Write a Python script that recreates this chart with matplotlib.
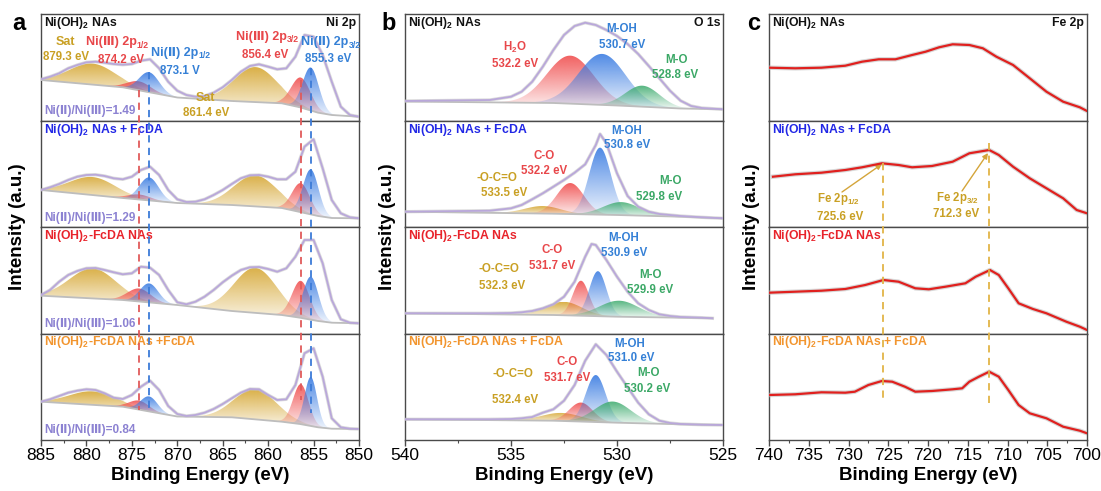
import numpy as np
import matplotlib
matplotlib.use('Agg')
import matplotlib.pyplot as plt
from matplotlib.lines import Line2D
from matplotlib.colors import to_rgb
from matplotlib.ticker import MultipleLocator
import matplotlib.transforms as mtrans

plt.rcParams['font.family'] = ['Liberation Sans', 'DejaVu Sans']
plt.rcParams['mathtext.fontset'] = 'custom'
plt.rcParams['mathtext.rm'] = 'Liberation Sans:bold'
plt.rcParams['mathtext.bf'] = 'Liberation Sans:bold'
plt.rcParams['mathtext.it'] = 'Liberation Sans:bold'
plt.rcParams['mathtext.default'] = 'rm'

# ---------------- data ----------------
row_titles = ["Ni(OH)$_2$ NAs", "Ni(OH)$_2$ NAs + FcDA", "Ni(OH)$_2$-FcDA NAs", "Ni(OH)$_2$-FcDA NAs +FcDA"]
row_titles_bc = ["Ni(OH)$_2$ NAs", "Ni(OH)$_2$ NAs + FcDA", "Ni(OH)$_2$-FcDA NAs", "Ni(OH)$_2$-FcDA NAs + FcDA"]
row_colors = ['#111111', '#2228E6', '#E8232B', '#F2952E']

# Panel a : Ni 2p
a_env_eV = list(range(885, 849, -1))
a_env = [
    [41.2, 43.8, 47.2, 52.2, 55.5, 58.2, 58.8, 57.8, 56.5, 55.8, 56.5, 59.8, 61.2, 52.2, 38.8, 29.8, 25.5, 23.8,
     24.5, 27.8, 33.2, 40.5, 48.8, 54.5, 56.2, 53.8, 51.2, 52.2, 63.8, 85.5, 83.8, 65.5, 38.8, 13.8, 5.5, 3.8],
    [37, 39.7, 43, 47, 50.3, 52, 52.3, 51, 48.7, 47.7, 50.3, 57, 60.3, 52, 37, 27.7, 25, 25.3,
     27.7, 32, 37, 43, 48.7, 51.7, 52, 50.3, 47.7, 47.7, 55.3, 80.3, 87.7, 58.7, 27, 13.7, 9.7, 8.7],
    [38.5, 43.5, 51.8, 58.5, 62.5, 65.2, 65.5, 63.5, 61.2, 59.2, 60.2, 66.8, 65.8, 58.5, 43.5, 31.2, 29.2, 31.8,
     36.8, 43.5, 51.2, 57.8, 63.5, 66.2, 66.5, 64.5, 61.8, 65.2, 76.8, 93.5, 93.5, 70.2, 33.5, 14.2, 10.8, 10.2],
    [38.3, 40.7, 44, 47.3, 49.3, 50.7, 50, 46.7, 42.3, 41, 45, 53.3, 59.3, 50, 34, 26, 24, 25,
     27.3, 31, 36, 41.7, 47.3, 51, 50.7, 45, 40, 40.7, 55, 86.7, 91.7, 63.3, 21.7, 12.7, 11.3, 11],
]
a_base_eV = [885, 876, 870, 864, 858.5, 856.5, 854.5, 853, 850]
a_base = [
    [40.5, 33.2, 23.0, 19.5, 17.2, 13.2, 7.8, 5.5, 3.8],
    [37, 29, 24.0, 22, 19, 15, 11, 9, 8.7],
    [37.8, 33.5, 28.5, 22.5, 18.5, 15.8, 12.5, 10.8, 10.2],
    [38.3, 33.3, 23.5, 22.7, 18.3, 16, 12.7, 11.3, 11],
]
a_centers = [879.3, 874.2, 873.1, 861.4, 856.4, 855.3]
a_kinds = ['gold', 'red', 'blue', 'gold', 'red', 'blue']
a_height = [
    [21, 9, 20, 35, 30, 43],
    [18, 5, 23, 31, 29, 45],
    [30, 13, 19, 45, 37, 43],
    [13.5, 9, 15, 30, 40, 49],
]
a_fwhm = [
    [6.0, 3.0, 2.6, 5.6, 2.5, 2.1],
    [6.0, 3.0, 2.5, 5.6, 2.3, 2.0],
    [6.0, 3.0, 2.4, 5.6, 2.3, 2.0],
    [6.0, 2.6, 2.2, 5.5, 2.0, 1.6],
]
a_ratios = ["1.49", "1.29", "1.06", "0.84"]

# Panel b : O 1s
b_env_eV = [
    [540, 536, 535, 534.5, 534, 533.5, 533, 532.5, 532, 531.5, 531, 530.5, 530, 529.5, 529, 528.5, 528, 527.5, 527, 526.5, 526, 525],
    [540, 536, 535, 534.5, 534, 533.5, 533, 532.5, 532, 531.5, 531, 530.8, 530.5, 530, 529.5, 529, 528.5, 528, 527, 526, 525],
    [540, 536, 535, 534.5, 534, 533.5, 533, 532.5, 532, 531.5, 531.2, 531, 530.5, 530, 529.5, 529, 528.5, 528, 527.5, 527, 526, 525.5],
    [540, 536, 535, 534.5, 534, 533.5, 533, 532.5, 532, 531.5, 531, 530.5, 530, 529.5, 529, 528.5, 528, 527.5, 527, 526, 525],
]
b_env = [
    [19.5, 20.5, 23.8, 28.8, 38.8, 53.8, 70.5, 85.5, 94.5, 97.8, 95.5, 90.5, 84.5, 76.5, 66.5, 54.5, 42.2, 29.8, 19.8, 14.5, 12.5, 11.2],
    [15.3, 16.3, 18.7, 22, 27.7, 33.7, 40.3, 47, 54.3, 62.7, 82, 93, 83.7, 53.7, 31, 20.3, 15.3, 13, 11, 9.7, 8.7],
    [20.2, 20.2, 20.5, 21.2, 22.5, 25.2, 29.2, 36.8, 51.8, 76.8, 89.5, 88.5, 73.5, 56.8, 41.8, 30.2, 23.5, 19.2, 17.5, 16.5, 15.8, 15.2],
    [20.7, 20.7, 21, 21.7, 23, 27.3, 30.7, 39.3, 55, 79.3, 95.7, 85, 68.3, 52.7, 37.3, 25.7, 19.3, 17, 16, 15.3, 15],
]
b_base_eV = [540, 533, 530, 527, 525]
b_base = [
    [19, 17.5, 15, 12, 11.2],
    [15.3, 13.3, 12, 10.3, 8.7],
    [20.2, 18.5, 16.8, 15.8, 15.2],
    [20.7, 19.3, 17.3, 15.7, 15],
]
b_centers = [[532.2, 530.7, 528.8], [533.5, 532.2, 530.8, 529.8], [532.5, 531.7, 530.9, 529.9], [532.6, 531.7, 531.0, 530.2]]
b_kinds = [['red', 'blue', 'green'], ['gold', 'red', 'blue', 'green'], ['gold', 'red', 'blue', 'green'], ['gold', 'red', 'blue', 'green']]
b_height = [[48, 51, 21], [7.5, 31, 67, 13], [13.5, 35, 45, 16], [8, 19, 47, 21]]
b_fwhm = [[2.6, 2.6, 1.9], [2.0, 1.5, 1.2, 2.0], [2.0, 0.9, 0.95, 2.2], [2.2, 1.3, 1.1, 2.0]]

# Panel c : Fe 2p
c_eV = [
    [740, 736.7, 733.4, 730.4, 728.3, 726.2, 724.1, 722.0, 720.3, 718.6, 716.9, 714.8, 713.1, 711.4, 709.3, 707.2, 705.1, 703.0, 700.9, 700.0],
    [739.5, 736.7, 733.4, 730.4, 728.3, 725.8, 723.7, 722.0, 719.5, 716.9, 714.8, 712.3, 711.1, 709.3, 707.2, 705.1, 703.0, 701.3, 700.0],
    [740, 736.7, 733.4, 730.4, 727.9, 725.6, 723.7, 721.6, 719.9, 717.8, 715.3, 714.0, 712.2, 711.1, 709.9, 708.6, 706.8, 705.1, 702.6, 700.9, 700.0],
    [740, 736.7, 733.4, 730.4, 729.2, 727.5, 725.8, 724.5, 722.9, 721.6, 719.5, 716.9, 715.7, 714.8, 713.6, 712.3, 711.1, 709.9, 708.6, 707.2, 705.1, 703.0, 700.9, 700.0],
]
c_int = [
    [52.8, 52.2, 52.8, 54.8, 58.8, 61.2, 61.2, 65.5, 68.8, 73.2, 76.2, 75.5, 72.2, 63.8, 55.5, 42.2, 28.8, 18.8, 13.2, 9.5],
    [50.3, 52.7, 54.3, 57, 59.7, 63.7, 62, 59.7, 61, 65.3, 73.7, 77, 72, 60.3, 48.7, 38.7, 28.7, 17, 13.7],
    [40.8, 41.8, 42.8, 44.5, 48.5, 53.5, 51.8, 45.2, 44.2, 46.8, 50.2, 56.8, 63.5, 58.5, 45.2, 30.2, 24.5, 20.2, 11.8, 6.8, 3.5],
    [45, 45.7, 47.7, 47.3, 48.3, 55, 59, 58.3, 53.3, 48.3, 49, 50.7, 51.7, 58.3, 63.3, 68.3, 63.3, 50, 35, 26.7, 21.7, 13.3, 9.3, 6.7],
]
fe_peaks = [725.6, 712.3]

fill_cols = {'gold': '#D6A733', 'red': '#F04E4E', 'blue': '#3A7CE2', 'green': '#40AC70'}
txt_gold, txt_red, txt_blue, txt_green = '#C9A024', '#E8474A', '#3580D6', '#3BA866'
lav = '#8C82D2'

# ---------------- figure ----------------
W, H = 1101, 491
fig = plt.figure(figsize=(W / 100, H / 100), dpi=100)
row_px = [14, 120.5, 227, 333.5, 440]
RH = 106.5
panel_left = [41, 405, 769]
PW = 318
xlims = [(885, 850), (540, 525), (740, 700)]


def make_axes(p):
    axs = []
    for r in range(4):
        rect = [panel_left[p] / W, 1 - row_px[r + 1] / H, PW / W, RH / H]
        ax = fig.add_axes(rect)
        ax.set_xlim(*xlims[p])
        ax.set_ylim(0, RH)
        ax.set_yticks([])
        for s in ax.spines.values():
            s.set_color('#4a4a4a')
            s.set_linewidth(1.0)
        if r < 3:
            ax.set_xticks([])
        else:
            ax.xaxis.set_major_locator(MultipleLocator(5))
            ax.xaxis.set_minor_locator(MultipleLocator(2.5))
            ax.tick_params(axis='x', which='major', direction='out', length=4, width=1,
                           labelsize=12.5, pad=2, color='#4a4a4a')
            ax.tick_params(axis='x', which='minor', direction='out', length=2.5, width=0.8, color='#4a4a4a')
        axs.append(ax)
    return axs


def grad_fill(ax, x, ybot, ytop, color, amax=0.9, amin=0.08, z=2):
    poly = ax.fill_between(x, ybot, ytop, facecolor='none', edgecolor='none')
    path = poly.get_paths()[0]
    rgb = to_rgb(color)
    n = 200
    img = np.zeros((n, 1, 4))
    img[:, 0, :3] = rgb
    img[:, 0, 3] = np.linspace(amax, amin, n)
    im = ax.imshow(img, aspect='auto', origin='upper', zorder=z, interpolation='bilinear',
                   extent=[x.min(), x.max(), ybot.min(), ytop.max()])
    im.set_clip_path(path, transform=ax.transData)


def draw_components(ax, centers, kinds, heights, fwhms, base_eV, base_vals, xr):
    bx = np.array(base_eV[::-1], float)
    by = np.array(base_vals[::-1], float)
    for c, k, h, w in zip(centers, kinds, heights, fwhms):
        lo = max(min(xr), c - 2.6 * w)
        hi = min(max(xr), c + 2.6 * w)
        x = np.linspace(lo, hi, 300)
        b = np.interp(x, bx, by)
        y = b + h * np.exp(-4 * np.log(2) * ((x - c) / w) ** 2)
        grad_fill(ax, x, b, y, fill_cols[k])


def ftxt(x, y, s, color, size=8.3, ha='center', **kw):
    return fig.text(x / W, 1 - y / H, s, color=color, fontsize=size, fontweight='bold', ha=ha, va='center', **kw)


renderer = fig.canvas.get_renderer()


def sub_label(cx, cy, main, sub, color, size=9, subsize=6.3):
    t1 = fig.text(0, 0, main, fontsize=size, fontweight='bold', color=color, ha='left', va='center')
    t2 = fig.text(0, 0, sub, fontsize=subsize, fontweight='bold', color=color, ha='left', va='center')
    w1 = t1.get_window_extent(renderer).width
    w2 = t2.get_window_extent(renderer).width
    x0 = cx - (w1 + w2) / 2
    t1.set_position((x0 / W, 1 - cy / H))
    t2.set_position(((x0 + w1) / W, 1 - (cy + 3) / H))


ax_a = make_axes(0)
ax_b = make_axes(1)
ax_c = make_axes(2)

# panel a
for r, ax in enumerate(ax_a):
    draw_components(ax, a_centers, a_kinds, a_height[r], a_fwhm[r], a_base_eV, a_base[r], xlims[0])
    ax.plot(a_base_eV, a_base[r], color='#BDBDBD', lw=1.3, zorder=3)
    ax.plot(a_env_eV, a_env[r], color='#C4C4C4', lw=2.4, alpha=0.6, zorder=4)
    ax.plot(a_env_eV, a_env[r], color='#B9A7DA', lw=1.3, zorder=5)
    ax.set_xlim(*xlims[0]); ax.set_ylim(0, RH)

# panel b
for r, ax in enumerate(ax_b):
    draw_components(ax, b_centers[r], b_kinds[r], b_height[r], b_fwhm[r], b_base_eV, b_base[r], xlims[1])
    xe = b_env_eV[r]
    bb = np.interp(np.array(xe[::-1], float), np.array(b_base_eV[::-1], float), np.array(b_base[r][::-1], float))[::-1]
    ax.plot(xe, bb, color='#BDBDBD', lw=1.3, zorder=3)
    ax.plot(xe, b_env[r], color='#C4C4C4', lw=2.4, alpha=0.6, zorder=4)
    ax.plot(xe, b_env[r], color='#B9A7DA', lw=1.3, zorder=5)
    ax.set_xlim(*xlims[1]); ax.set_ylim(0, RH)

# panel c
for r, ax in enumerate(ax_c):
    ax.plot(c_eV[r], c_int[r], color='#BDBDBD', lw=3.2, alpha=0.6, zorder=3)
    ax.plot(c_eV[r], c_int[r], color='#E0201E', lw=1.6, zorder=4)
    ax.set_xlim(*xlims[2]); ax.set_ylim(0, RH)


# dashed reference lines spanning rows
def vline_fig(ax, x, y0, y1, color):
    tr = mtrans.blended_transform_factory(ax.transData, fig.transFigure)
    ln = Line2D([x, x], [1 - y0 / H, 1 - y1 / H], transform=tr, color=color, lw=1.3,
                linestyle=(0, (4, 3)), zorder=10)
    fig.add_artist(ln)


vline_fig(ax_a[0], a_centers[1], 90, 410, '#E05A5A')
vline_fig(ax_a[0], a_centers[2], 72, 413, '#3C7BD8')
vline_fig(ax_a[0], a_centers[4], 80, 400, '#E05A5A')
vline_fig(ax_a[0], a_centers[5], 68, 413, '#3C7BD8')
vline_fig(ax_c[0], fe_peaks[0], 163, 398, '#E2B446')
vline_fig(ax_c[0], fe_peaks[1], 143, 408, '#E2B446')

# row titles
for p in range(3):
    for r in range(4):
        t = row_titles[r] if p == 0 else row_titles_bc[r]
        ftxt(panel_left[p] + 3, row_px[r] + 9, t, row_colors[r], size=8.8, ha='left')
ftxt(panel_left[0] + PW - 3, 23, "Ni 2p", '#111111', size=8.8, ha='right')
ftxt(panel_left[1] + PW - 3, 23, "O 1s", '#111111', size=8.8, ha='right')
ftxt(panel_left[2] + PW - 3, 23, "Fe 2p", '#111111', size=8.8, ha='right')

# panel a labels
ftxt(65, 42, "Sat", txt_gold, 9)
ftxt(66, 57, "879.3 eV", txt_gold)
sub_label(117, 42, "Ni(Ⅲ) 2p", "1/2", txt_red)
ftxt(121, 60, "874.2 eV", txt_red)
sub_label(181, 53, "Ni(Ⅱ) 2p", "1/2", txt_blue)
ftxt(180, 71, "873.1 V", txt_blue)
sub_label(267, 37, "Ni(Ⅲ) 2p", "3/2", txt_red)
ftxt(265, 55, "856.4 eV", txt_red)
sub_label(331, 42, "Ni(Ⅱ) 2p", "3/2", txt_blue)
ftxt(328, 59, "855.3 eV", txt_blue)
ftxt(205, 98, "Sat", txt_gold, 9)
ftxt(206, 113, "861.4 eV", txt_gold)
ratio_y = [111, 218.5, 324.5, 430]
for r in range(4):
    ftxt(44, ratio_y[r], "Ni(Ⅱ)/Ni(Ⅲ)=" + a_ratios[r], lav, 8.5, ha='left')

# panel b labels
ftxt(515, 47.5, "H$_2$O", txt_red)
ftxt(515, 64, "532.2 eV", txt_red)
ftxt(622, 29.5, "M-OH", txt_blue)
ftxt(622.5, 45, "530.7 eV", txt_blue)
ftxt(676.5, 60, "M-O", txt_green)
ftxt(675.5, 75.5, "528.8 eV", txt_green)

ftxt(626.7, 130.7, "M-OH", txt_blue)
ftxt(627.3, 145, "530.8 eV", txt_blue)
ftxt(544, 155.7, "C-O", txt_red)
ftxt(544, 171, "532.2 eV", txt_red)
ftxt(497, 178.3, "-O-C=O", txt_gold)
ftxt(504, 193.3, "533.5 eV", txt_gold)
ftxt(670, 181, "M-O", txt_green)
ftxt(659, 196.7, "529.8 eV", txt_green)

ftxt(623.3, 238.3, "M-OH", txt_blue)
ftxt(624, 253.3, "530.9 eV", txt_blue)
ftxt(552.5, 250, "C-O", txt_red)
ftxt(552.5, 265.7, "531.7 eV", txt_red)
ftxt(499, 269.3, "-O-C=O", txt_gold)
ftxt(501.7, 285.7, "532.3 eV", txt_gold)
ftxt(650.7, 275, "M-O", txt_green)
ftxt(649.7, 290, "529.9 eV", txt_green)

ftxt(630, 344, "M-OH", txt_blue)
ftxt(630.7, 358.3, "531.0 eV", txt_blue)
ftxt(567.5, 362.3, "C-O", txt_red)
ftxt(567.5, 377.7, "531.7 eV", txt_red)
ftxt(512.5, 374.3, "-O-C=O", txt_gold)
ftxt(515, 400, "532.4 eV", txt_gold)
ftxt(648.3, 373.3, "M-O", txt_green)
ftxt(647.3, 389.3, "530.2 eV", txt_green)

# panel c labels + arrows
ftxt(838.3, 199.3, "Fe 2p$_{1/2}$", txt_gold)
ftxt(840, 217.3, "725.6 eV", txt_gold)
ftxt(957.3, 198.3, "Fe 2p$_{3/2}$", txt_gold)
ftxt(955.7, 214, "712.3 eV", txt_gold)
axc = ax_c[1]


def px2c(px, py):
    return (740 - (px - 769) / (PW / 40.0), row_px[2] - py)


for (x0, y0), (x1, y1) in [((842, 192), (882, 164)), ((962, 191), (988, 153))]:
    axc.annotate('', xy=px2c(x1, y1), xytext=px2c(x0, y0), xycoords='data', textcoords='data',
                 arrowprops=dict(arrowstyle='-|>', color='#D4A53A', lw=1.0, mutation_scale=8, shrinkA=0, shrinkB=0))

# axis labels
for p in range(3):
    fig.text((panel_left[p] + PW / 2) / W, 1 - 475 / H, "Binding Energy (eV)", fontsize=13.5,
             fontweight='bold', ha='center', va='center')
for xpx in [18, 387, 752]:
    fig.text(xpx / W, 1 - 227 / H, "Intensity (a.u.)", fontsize=13.5, fontweight='bold',
             rotation=90, ha='center', va='center')
for lbl, xpx in [('a', 19), ('b', 389), ('c', 754)]:
    fig.text(xpx / W, 1 - 24 / H, lbl, fontsize=17, fontweight='bold', ha='center', va='center')

fig.savefig('out.png', dpi=100)
